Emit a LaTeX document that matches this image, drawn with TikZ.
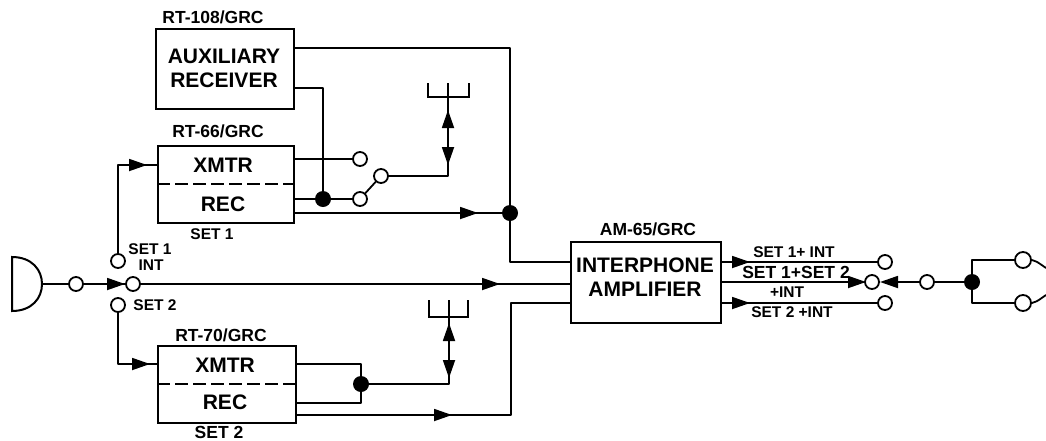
\documentclass[tikz,border=0pt]{standalone}
\usepackage{fontspec}
\setmainfont{Liberation Sans}
\usepackage{tikz}
\usetikzlibrary{arrows.meta}

\tikzset{
    wire/.style={line width=1.8pt, line join=round, line cap=round},
    flow/.style={line width=1.8pt, -{Triangle[length=18pt,width=12pt]}},
    unit/.style={draw, line width=2pt, anchor=north west, inner sep=0pt},
    jack/.style={draw, fill=white, circle, line width=1.8pt, minimum size=14pt, inner sep=0pt},
    ear/.style={jack, minimum size=16pt},
    dot/.style={fill=black, circle, minimum size=16pt, inner sep=0pt},
    big/.style={font=\bfseries\fontsize{21}{24}\selectfont, text=black},
    tag/.style={font=\bfseries\fontsize{15.5}{17}\selectfont, text=black, inner sep=0pt},
    bigtag/.style={font=\bfseries\fontsize{17.5}{19}\selectfont, text=black, inner sep=0pt},
}

\begin{document}
\begin{tikzpicture}[x=1pt,y=-1pt]
    \useasboundingbox (0,0) rectangle (1046,440);

    % boxes
    \node[unit, minimum width=138pt, minimum height=80pt] (aux) at (155,28) {};
    \node[unit, minimum width=136pt, minimum height=77pt] (setone) at (157,145) {};
    \node[unit, minimum width=138pt, minimum height=77pt] (settwo) at (157,345) {};
    \node[unit, minimum width=150pt, minimum height=81pt] (amp) at (570,241) {};
    \draw[line width=1.8pt, dash pattern=on 13pt off 5pt] (setone.west |- 0,184) -- (setone.east |- 0,184);
    \draw[line width=1.8pt, dash pattern=on 13pt off 5pt] (settwo.west |- 0,384) -- (settwo.east |- 0,384);

    \node[big, align=center, inner sep=0pt] (auxtext) at (224,68) {AUXILIARY\\RECEIVER};
    \node[big] (xmtrone) at (223,165) {XMTR};
    \node[big] (recone) at (223,204) {REC};
    \node[big] (xmtrtwo) at (225,365) {XMTR};
    \node[big] (rectwo) at (225,402) {REC};
    \node[big, align=center, inner sep=0pt] (amptext) at (645,277) {INTERPHONE\\AMPLIFIER};

    \node[bigtag] (auxname) at (213,17) {RT-108/GRC};
    \node[bigtag] (onename) at (218,131) {RT-66/GRC};
    \node[bigtag] (twoname) at (221,335) {RT-70/GRC};
    \node[bigtag] (ampname) at (648,229) {AM-65/GRC};
    \node[tag] (onelabel) at (212,234) {SET 1};
    \node[bigtag] (twolabel) at (219,432) {SET 2};
    \node[tag] (swone) at (150,249) {SET 1};
    \node[tag] (swint) at (151,265) {INT};
    \node[tag] (swtwo) at (155,305) {SET 2};
    \node[tag] (outa) at (794,252) {SET 1+ INT};
    \node[bigtag] (outb) at (796,272) {SET 1+SET 2};
    \node[tag] (outc) at (787,292) {+INT};
    \node[tag] (outd) at (792,312) {SET 2 +INT};

    % microphone side
    \draw[line width=2pt] (12,257) .. controls (32,257) and (42,270) .. (42,284) .. controls (42,298) and (32,311) .. (12,311) -- cycle;
    \coordinate (mic) at (42,284);
    \coordinate (micarrow) at (125,284);
    \coordinate (intarrow) at (500,284);
    \coordinate (onearrow) at (147,165);
    \coordinate (twoarrow) at (150,364);
    \node[jack] (onejack) at (118,261) {};
    \node[jack] (twojack) at (118,305) {};
    \draw[wire] (mic) -- (intarrow -| amp.west);
    \draw[wire] (onejack) |- (onearrow -| setone.west);
    \draw[wire] (twojack) |- (twoarrow -| settwo.west);
    \node[jack] (micjack) at (76,284) {};
    \node[jack] (intjack) at (133,284) {};
    \draw[flow] (micjack) -- (micarrow);
    \draw[flow] (intjack) -- (intarrow);
    \draw[flow] (onearrow -| onejack) -- (onearrow);
    \draw[flow] (twoarrow -| twojack) -- (twoarrow);

    % set 1 and auxiliary receiver
    \coordinate (antup) at (448,110);
    \coordinate (antdown) at (448,165);
    \coordinate (antmid) at (448,138);
    \coordinate (antbend) at (448,176);
    \coordinate (antbase) at (448,97);
    \coordinate (recarrow) at (478,213);
    \node[jack] (xmtrjack) at (360,159) {};
    \node[jack] (recjack) at (360,199) {};
    \node[jack] (antjack) at (381,176) {};
    \node[dot] (recdot) at (323,199) {};
    \node[dot] (ampdot) at (510,213) {};
    \draw[wire] (aux.east |- 0,48) -| (ampdot);
    \draw[wire] (aux.east |- 0,88) -| (recdot);
    \draw[wire] (setone.east |- xmtrjack) -- (xmtrjack);
    \draw[wire] (setone.east |- recjack) -- (recjack);
    \draw[wire] (recjack) -- (antjack);
    \draw[wire] (antjack) -- (antbend) -- (antbase);
    \draw[flow] (antmid) -- (antup);
    \draw[flow] (antmid) -- (antdown);
    \draw[line width=1.8pt] (428,83) -- (428,97) -- (469,97) -- (469,83) (448,97) -- (448,83);
    \draw[wire] (setone.east |- recarrow) -- (ampdot);
    \draw[flow] (setone.east |- recarrow) -- (recarrow);
    \draw[wire] (ampdot) |- (amp.west |- 0,262);

    % set 2
    \node[dot] (twodot) at (361,384) {};
    \coordinate (twobend) at (449,384);
    \coordinate (twoup) at (449,323);
    \coordinate (twodown) at (449,378);
    \coordinate (twomid) at (449,351);
    \coordinate (twobase) at (449,317);
    \coordinate (lowarrow) at (452,415);
    \draw[wire] (settwo.east |- 0,364) -| (twodot);
    \draw[wire] (settwo.east |- 0,403) -| (twodot);
    \draw[wire] (twodot) -- (twobend) -- (twobase);
    \draw[flow] (twomid) -- (twoup);
    \draw[flow] (twomid) -- (twodown);
    \draw[line width=1.8pt] (429,300) -- (429,317) -- (468,317) -- (468,300) (449,317) -- (449,300);
    \draw[wire] (settwo.east |- lowarrow) -- (511,415) |- (amp.west |- 0,303);
    \draw[flow] (settwo.east |- lowarrow) -- (lowarrow);

    % amplifier outputs and headset
    \coordinate (topx) at (750,262);
    \coordinate (midx) at (866,282);
    \coordinate (lowx) at (750,303);
    \coordinate (backx) at (880,282);
    \node[jack] (topjack) at (885,262) {};
    \node[jack] (lowjack) at (885,303) {};
    \node[jack] (phonejack) at (927,282) {};
    \node[dot] (phonedot) at (972,282) {};
    \node[ear] (earone) at (1023,260) {};
    \node[ear] (eartwo) at (1023,303) {};
    \draw[wire] (amp.east |- topx) -- (topjack);
    \draw[flow] (amp.east |- topx) -- (topx);
    \draw[flow] (amp.east |- midx) -- (midx);
    \draw[wire] (amp.east |- lowx) -- (lowjack);
    \draw[flow] (amp.east |- lowx) -- (lowx);
    \node[jack] (midjack) at (872,282) {};
    \draw[wire] (phonejack) -- (phonedot);
    \draw[flow] (phonejack) -- (backx);
    \draw[wire] (earone) -| (phonedot) |- (eartwo);
    \draw[wire] (earone.east) .. controls (1036,261) .. (1046,268);
    \draw[wire] (eartwo.east) .. controls (1036,302) .. (1046,295);
\end{tikzpicture}
\end{document}
